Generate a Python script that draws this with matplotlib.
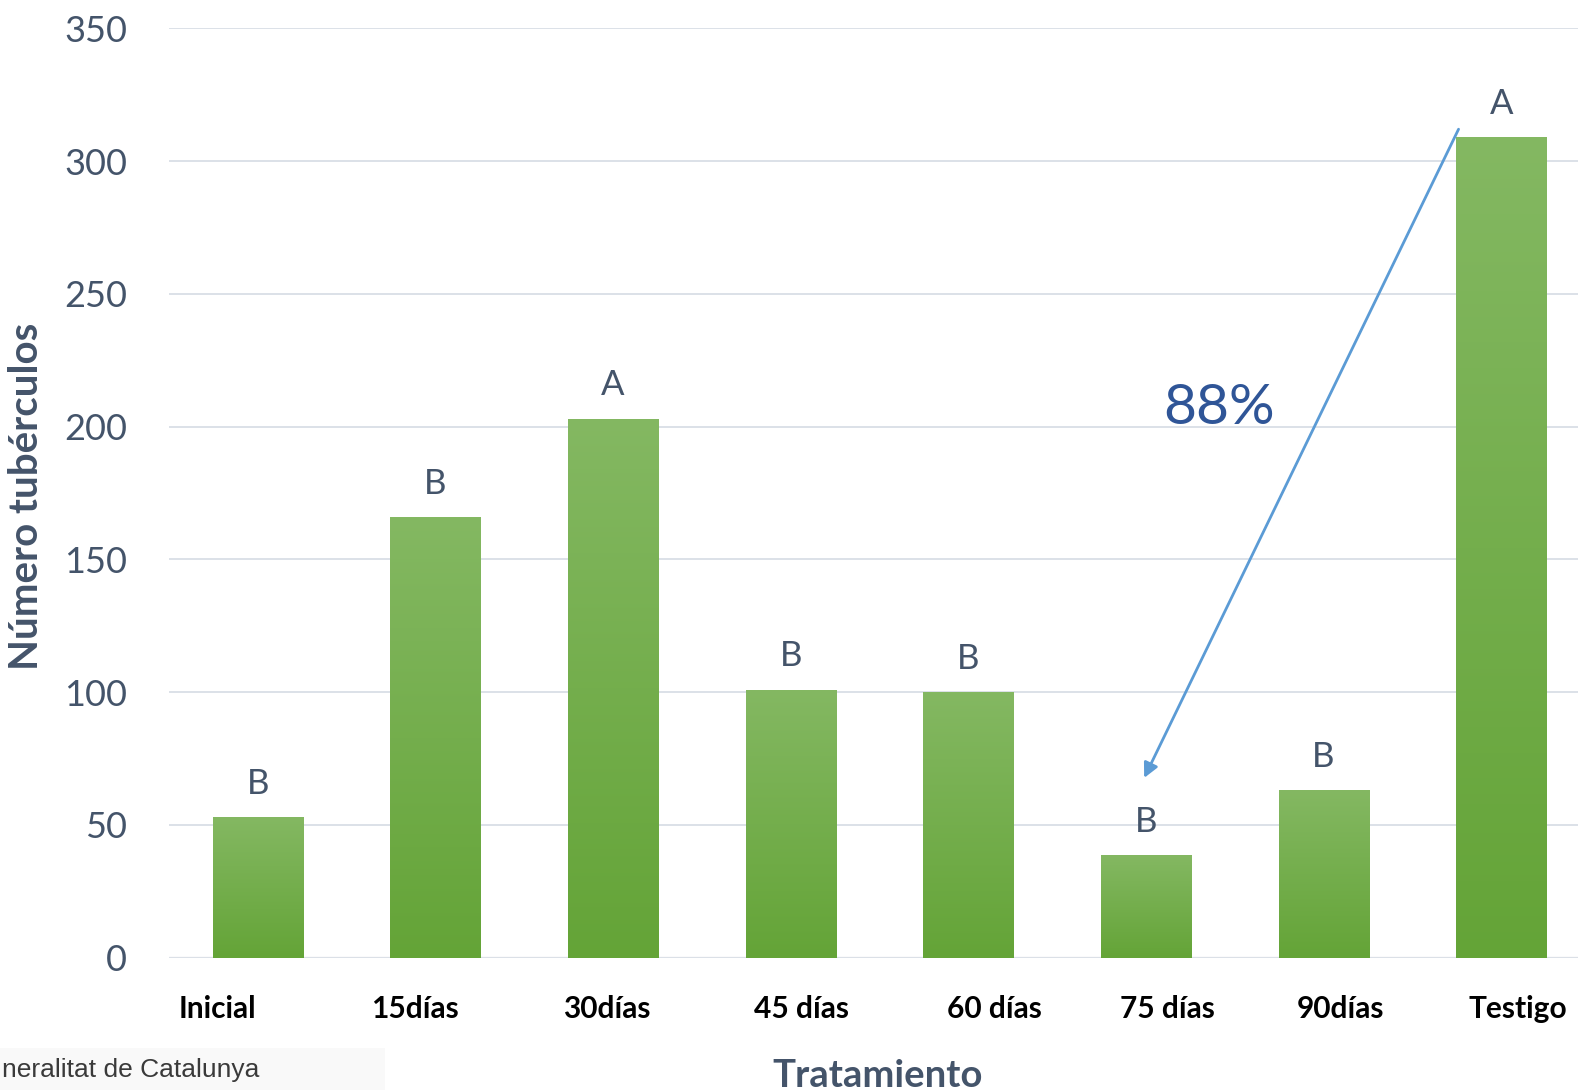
import numpy as np
import matplotlib
matplotlib.use("Agg")
import matplotlib.pyplot as plt
import matplotlib.transforms as mtransforms
from matplotlib.colors import LinearSegmentedColormap
from matplotlib.patches import Rectangle

# datos
tratamientos = ["Inicial", "15días", "30días", "45 días", "60 días", "75 días", "90días", "Testigo"]
tuberculos = [53, 166, 203, 101, 100, 38.5, 63, 309]
letras = ["B", "B", "A", "B", "B", "B", "B", "A"]
reduccion = "88%"

# desplazamiento horizontal de cada etiqueta del eje x (px)
desp_etiquetas = [-40, -21, -6, 11, 26, 22, 17, 17]

gris_texto = "#44546A"
plt.rcParams["font.family"] = ["Lato", "DejaVu Sans"]

fig = plt.figure(figsize=(15.78, 10.90), dpi=100)
ax = fig.add_axes([169 / 1578, 1 - 957.7 / 1090, 1421 / 1578, (957.7 - 28.3) / 1090])

x = np.arange(len(tratamientos))
barras = ax.bar(x, tuberculos, width=0.507, color="#74AE4B", zorder=2)

# degradado vertical dentro de cada barra
cmap = LinearSegmentedColormap.from_list("verde", ["#64A437", "#84B862"])
grad = np.linspace(0, 1, 256).reshape(-1, 1)
for b in barras:
    x0, w, h = b.get_x(), b.get_width(), b.get_height()
    im = ax.imshow(grad, cmap=cmap, origin="lower", aspect="auto",
                   extent=[x0, x0 + w, 0, h], zorder=3)
    im.set_clip_path(b)

for xi, v, l in zip(x, tuberculos, letras):
    ax.annotate(l, (xi, v), xytext=(0, 24), textcoords="offset points",
                ha="center", va="center", fontsize=25, color=gris_texto)

ax.set_xlim(-0.5, len(tratamientos) - 0.5)
ax.set_ylim(0, 350)
ax.set_yticks(np.arange(0, 351, 50))
ax.grid(axis="y", color="#DCE1E8", linewidth=1.4, zorder=0)
for s in ["top", "right", "left", "bottom"]:
    ax.spines[s].set_visible(False)
ax.axhline(0, color="#D3D8DF", linewidth=1.6, zorder=1)

ax.tick_params(axis="y", length=0, pad=30, labelsize=26, labelcolor=gris_texto)
ax.tick_params(axis="x", length=0, pad=27)
ax.set_xticks(x)
ax.set_xticklabels(tratamientos, fontsize=21.5, fontweight="bold", color="black")
for lab, d in zip(ax.get_xticklabels(), desp_etiquetas):
    lab.set_transform(lab.get_transform() + mtransforms.ScaledTranslation(d / 100, 0, fig.dpi_scale_trans))

fig.text(27 / 1578, 1 - 496 / 1090, "Número tubérculos", rotation=90, ha="center", va="center",
         fontsize=29, fontweight="bold", color=gris_texto)
fig.text(878 / 1578, 1 - 1087 / 1090, "Tratamiento", ha="center", va="baseline",
         fontsize=27.5, fontweight="bold", color=gris_texto)

# flecha Testigo -> 75 días
ax.annotate("", xy=(4.99, 67.7), xytext=(6.76, 312),
            arrowprops=dict(arrowstyle="-|>", color="#5B9BD5", lw=2, mutation_scale=22,
                            shrinkA=0, shrinkB=0), zorder=5)
ax.text(5.41, 207, reduccion, ha="center", va="center", fontsize=41, color="#2F5597")

# logotipo inferior
fig.patches.append(Rectangle((0, 0), 385 / 1578, 42 / 1090, transform=fig.transFigure,
                             facecolor="#F9F9F9", edgecolor="none", zorder=0))
fig.text(0.001, 1 - 1077 / 1090, "neralitat de Catalunya", ha="left", va="baseline",
         fontsize=19, color="#3A3A3A", family="Liberation Sans")

fig.savefig("out.png", dpi=100)
